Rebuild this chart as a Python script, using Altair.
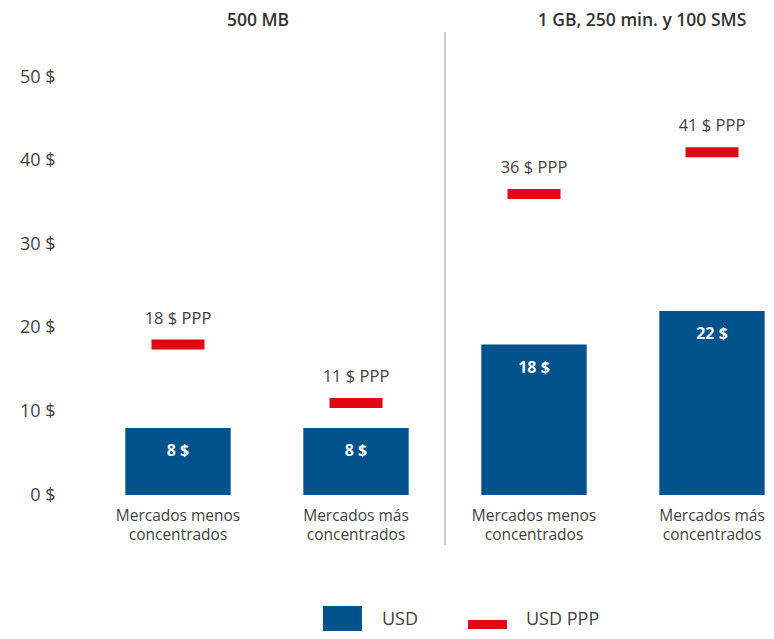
import altair as alt
import pandas as pd

panels = ["500 MB", "1 GB, 250 min. y 100 SMS"]
markets = ["Mercados menos concentrados", "Mercados más concentrados"]
market_labels = ["Mercados menos\nconcentrados", "Mercados más\nconcentrados"]
usd = [8, 8, 18, 22]
ppp = [18, 11, 36, 41]
y_ticks = [0, 10, 20, 30, 40, 50]
legend_labels = ["USD", "USD PPP"]

rows = []
i = 0
for p in panels:
    for m, ml in zip(markets, market_labels):
        rows.append({"panel": p, "market": m, "mlabel": ml, "usd": usd[i], "ppp": ppp[i],
                     "usd_txt": f"{usd[i]} $", "ppp_txt": f"{ppp[i]} $ PPP"})
        i += 1
df = pd.DataFrame(rows)

BLUE = "#00528C"
RED = "#E30613"
TXT = "#3f3f3f"
FONT = "Open Sans"

xscale = alt.Scale(domain=panels, range=[0, 712], paddingInner=0, paddingOuter=0)
x = alt.X("panel:N", sort=panels, scale=xscale, axis=None)
xo = alt.XOffset("market:N", sort=markets,
                 scale=alt.Scale(domain=markets, paddingInner=0.408, paddingOuter=0.204))
yscale = alt.Scale(domain=[0, 50], range=[487, 69])

base = alt.Chart(df)

bars = base.mark_bar(color=BLUE).encode(
    x=x, xOffset=xo,
    y=alt.Y("usd:Q", scale=yscale,
            axis=alt.Axis(values=y_ticks, labelExpr="datum.value + ' $'", title=None,
                          domain=False, ticks=False, grid=False, labelPadding=34,
                          labelFontSize=18, labelColor=TXT, labelFont=FONT)),
)

bar_text = base.mark_text(color="white", fontWeight="bold", fontSize=16, font=FONT,
                          baseline="middle", dy=23).encode(
    x=x, xOffset=xo, y=alt.Y("usd:Q", scale=yscale), text="usd_txt:N")

ticks = base.mark_tick(color=RED, size=53, thickness=10, opacity=1).encode(
    x=x, xOffset=xo, y=alt.Y("ppp:Q", scale=yscale))

ppp_text = base.mark_text(color=TXT, fontSize=16.5, font=FONT, baseline="middle", dy=-26).encode(
    x=x, xOffset=xo, y=alt.Y("ppp:Q", scale=yscale), text="ppp_txt:N")

mkt_text = base.mark_text(color=TXT, fontSize=15.5, font=FONT, baseline="middle",
                          lineBreak="\n", lineHeight=19).encode(
    x=x, xOffset=xo, y=alt.value(508), text="mlabel:N")

title_df = pd.DataFrame({"panel": panels})
title1 = alt.Chart(title_df).transform_filter(alt.datum.panel == panels[0]).mark_text(
    color="#333333", fontWeight=600, fontSize=17.5, font=FONT, baseline="middle", dx=-9
).encode(x=x, y=alt.value(13), text="panel:N")
title2 = alt.Chart(title_df).transform_filter(alt.datum.panel == panels[1]).mark_text(
    color="#333333", fontWeight=600, fontSize=17.5, font=FONT, baseline="middle", dx=19
).encode(x=x, y=alt.value(13), text="panel:N")

sep = alt.Chart(title_df).transform_filter(alt.datum.panel == panels[1]).mark_rule(
    color="#BDBDBD", strokeWidth=1.5
).encode(x=alt.X("panel:N", sort=panels, bandPosition=0, scale=xscale, axis=None),
         y=alt.value(24), y2=alt.value(537))

leg_df = pd.DataFrame({"label": legend_labels})
leg_sq = alt.Chart(leg_df).transform_filter(alt.datum.label == legend_labels[0]).mark_rect(
    color=BLUE).encode(x=alt.value(234), x2=alt.value(273), y=alt.value(598), y2=alt.value(637))
leg_ln = alt.Chart(leg_df).transform_filter(alt.datum.label == legend_labels[1]).mark_rect(
    color=RED).encode(x=alt.value(379), x2=alt.value(418), y=alt.value(612), y2=alt.value(621))
leg_t1 = alt.Chart(leg_df).transform_filter(alt.datum.label == legend_labels[0]).mark_text(
    color=TXT, fontSize=18, font=FONT, align="left", baseline="middle").encode(
    x=alt.value(293), y=alt.value(612), text="label:N")
leg_t2 = alt.Chart(leg_df).transform_filter(alt.datum.label == legend_labels[1]).mark_text(
    color=TXT, fontSize=18, font=FONT, align="left", baseline="middle").encode(
    x=alt.value(437), y=alt.value(612), text="label:N")

chart = alt.layer(bars, bar_text, ticks, ppp_text, mkt_text, title1, title2, sep,
                  leg_sq, leg_ln, leg_t1, leg_t2).properties(
    width=677, height=623,
    autosize=alt.AutoSizeParams(type="none"),
    padding={"left": 81, "top": 0, "right": 0, "bottom": 0},
    background="white",
).configure_view(stroke=None)

chart.save("out.html", embed_options={"renderer": "svg", "actions": False})
